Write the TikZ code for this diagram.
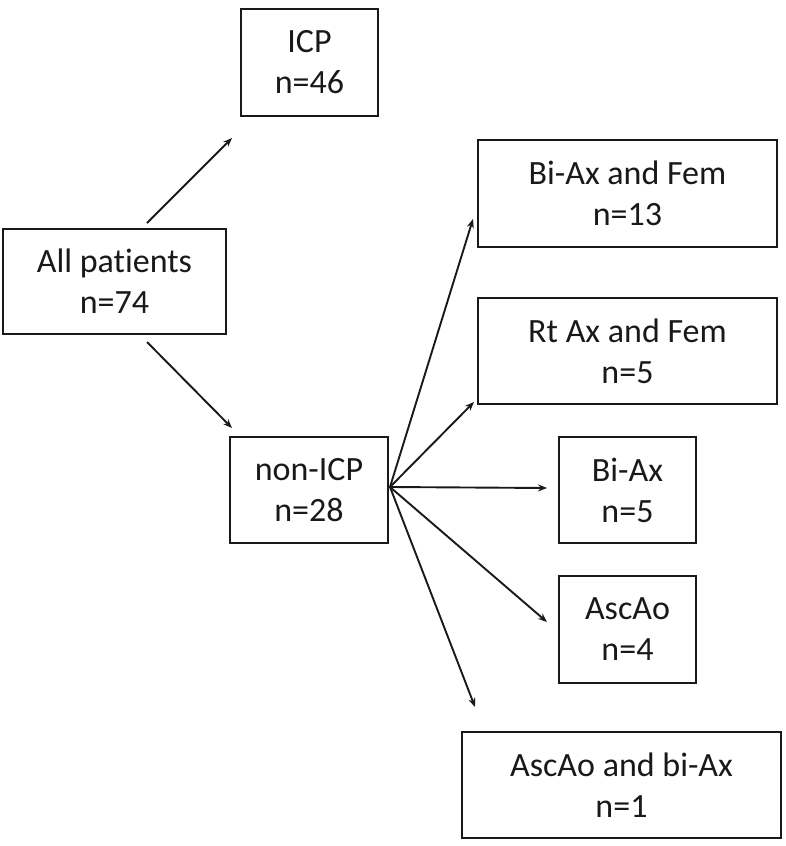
\documentclass[tikz,border=0pt]{standalone}
\usepackage{fontspec}
\setmainfont{Carlito}[Ligatures={NoCommon}]
\usetikzlibrary{arrows.meta}
\begin{document}
\begin{tikzpicture}[x=1pt,y=-1pt,
  box/.style={draw=black!90, line width=2.2pt, align=center, inner sep=0pt,
    font=\fontsize{34}{41}\selectfont, text=black!90},
  arr/.style={draw=black!90, line width=1.9pt, -{Stealth[length=9pt,width=7pt]}}]
\useasboundingbox (0,0) rectangle (785,846);
\node[box, minimum width=137pt, minimum height=107pt] (icp) at (309.5,62.5) {ICP\\n=46};
\node[box, minimum width=223pt, minimum height=105pt] (all) at (114.5,281.5) {All patients\\n=74};
\node[box, minimum width=158pt, minimum height=106pt] (nonicp) at (309,490) {non-ICP\\n=28};
\node[box, minimum width=299pt, minimum height=107pt] (bafem) at (627.5,193.5) {Bi-Ax and Fem\\n=13};
\node[box, minimum width=299pt, minimum height=106pt] (rtfem) at (627.5,351) {Rt Ax and Fem\\n=5};
\node[box, minimum width=137pt, minimum height=106pt] (biax) at (627.5,490) {Bi-Ax\\n=5};
\node[box, minimum width=137pt, minimum height=107pt] (ascao) at (627.5,629.5) {AscAo\\n=4};
\node[box, minimum width=319pt, minimum height=106pt] (ascbiax) at (621.5,785) {AscAo and bi-Ax\\n=1};
\coordinate (s1) at (147,223);
\coordinate (e1) at (232,138);
\coordinate (s2) at (147,342);
\coordinate (e2) at (232,428);
\coordinate (fan) at (390,487);
\coordinate (t1) at (473,219);
\coordinate (t2) at (474,402);
\coordinate (t3) at (547,488);
\coordinate (t4) at (547,622);
\coordinate (t5) at (475,707);
\draw[arr] (s1) -- (e1);
\draw[arr] (s2) -- (e2);
\draw[arr] (fan) -- (t1);
\draw[arr] (fan) -- (t2);
\draw[arr] (fan) -- (t3);
\draw[arr] (fan) -- (t4);
\draw[arr] (fan) -- (t5);
\end{tikzpicture}
\end{document}
